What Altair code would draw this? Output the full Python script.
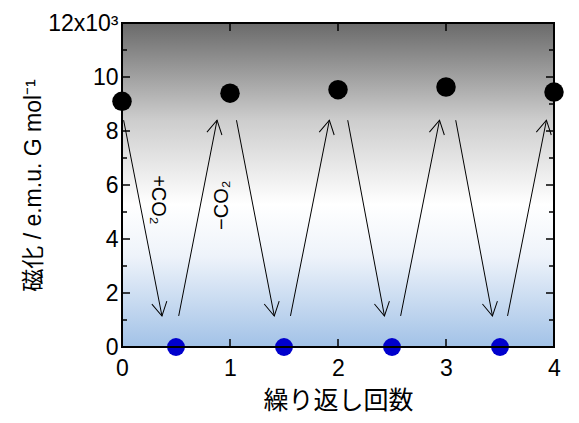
import altair as alt
import pandas as pd
import numpy as np

# ---- data ----
cycle_x = [0, 1, 2, 3, 4]
cycle_mag = [9100, 9400, 9530, 9630, 9440]          # black points (-CO2 state)
half_x = [0.5, 1.5, 2.5, 3.5]
half_mag = [0, 0, 0, 0]                               # blue points (+CO2 state)

# arrows: start x, start y, end x, end y
arr_x1 = [0.015, 0.525, 1.06, 1.56, 2.09, 2.58, 3.09, 3.57]
arr_y1 = [8400, 1150, 8400, 1150, 8400, 1150, 8400, 1150]
arr_x2 = [0.37, 0.88, 1.41, 1.92, 2.43, 2.94, 3.43, 3.93]
arr_y2 = [1150, 8400, 1150, 8400, 1150, 8400, 1150, 8400]

label_text = ["+CO\u2082", "\u2212CO\u2082"]
label_x = [0.33, 0.93]
label_y = [5450, 5250]
label_angle = [90, 270]

y_major = [0, 2000, 4000, 6000, 8000, 10000, 12000]
y_minor = [1000, 3000, 5000, 7000, 9000, 11000]
x_major = [1, 2, 3]

W, H = 432, 324
FONT = "Liberation Sans, Arial, Noto Sans CJK JP, sans-serif"

xs = alt.Scale(domain=[0, 4], nice=False, zero=False)
ys = alt.Scale(domain=[0, 12000], nice=False)

black = pd.DataFrame({"x": cycle_x, "y": cycle_mag})
blue = pd.DataFrame({"x": half_x, "y": half_mag})
arr = pd.DataFrame({"x1": arr_x1, "y1": arr_y1, "x2": arr_x2, "y2": arr_y2})
# arrowhead angle (clockwise from up) computed in pixel space
px = (arr["x2"] - arr["x1"]) * W / 4
py = -(arr["y2"] - arr["y1"]) * H / 12000
arr["ang"] = (np.degrees(np.arctan2(px, -py)) + 360) % 360
labels = pd.DataFrame({"t": label_text, "x": label_x, "y": label_y, "a": label_angle})
one = pd.DataFrame({"a": [0]})

xaxis = alt.Axis(values=[0, 1, 2, 3, 4], title="繰り返し回数", ticks=False, domain=False,
                 grid=False, labelFontSize=23, titleFontSize=25, labelPadding=10,
                 labelFlush=False, titlePadding=8, labelFont=FONT, titleFont=FONT,
                 titleFontWeight="normal", labelColor="black", titleColor="black", format="d")
yaxis = alt.Axis(values=y_major, title="磁化 / e.m.u. G mol\u207b\u00b9", ticks=False,
                 domain=False, grid=False, labelFontSize=23, titleFontSize=23,
                 labelPadding=4, titlePadding=2, labelFont=FONT, titleFont=FONT,
                 labelFlush=False,
                 titleFontWeight="normal", labelColor="black", titleColor="black",
                 labelExpr="datum.value == 12000 ? '12x10\u00b3' : format(datum.value/1000, 'd')")

grad = alt.LinearGradient(
    gradient="linear", x1=0, x2=0, y1=0, y2=1,
    stops=[alt.GradientStop(offset=0, color="#6a6a6a"),
           alt.GradientStop(offset=0.3, color="#cdcdcd"),
           alt.GradientStop(offset=0.56, color="#ffffff"),
           alt.GradientStop(offset=0.72, color="#eef3fa"),
           alt.GradientStop(offset=1, color="#a2c2e7")])

bg = alt.Chart(one).mark_rect(fill=grad).encode(
    x=alt.value(0), x2=alt.value(W), y=alt.value(0), y2=alt.value(H))

shafts = alt.Chart(arr).mark_rule(color="black", strokeWidth=1).encode(
    x=alt.X("x1:Q", scale=xs, axis=xaxis), y=alt.Y("y1:Q", scale=ys, axis=yaxis),
    x2="x2:Q", y2="y2:Q")

heads = alt.Chart(arr).mark_point(
    shape="M -0.56 1 L 0 0 L 0.56 1", filled=False, stroke="black", strokeWidth=1,
    size=740, opacity=1).encode(
    x=alt.X("x2:Q", scale=xs), y=alt.Y("y2:Q", scale=ys), angle=alt.Angle("ang:Q", scale=None))

texts = alt.Chart(labels).mark_text(fontSize=20, font=FONT, color="black",
                                    align="center", baseline="middle").encode(
    x=alt.X("x:Q", scale=xs), y=alt.Y("y:Q", scale=ys), text="t:N",
    angle=alt.Angle("a:Q", scale=None))

pts_black = alt.Chart(black).mark_circle(color="black", size=380, opacity=1).encode(
    x=alt.X("x:Q", scale=xs), y=alt.Y("y:Q", scale=ys))
pts_blue = alt.Chart(blue).mark_circle(color="#0000cd", size=320, opacity=1).encode(
    x=alt.X("x:Q", scale=xs), y=alt.Y("y:Q", scale=ys))

ymaj = pd.DataFrame({"v": y_major})
ymin = pd.DataFrame({"v": y_minor})
xmaj = pd.DataFrame({"v": x_major})

def yt(df, x0, x1):
    return alt.Chart(df).mark_rule(color="black", strokeWidth=1.5).encode(
        y=alt.Y("v:Q", scale=ys), x=alt.value(x0), x2=alt.value(x1))

def xt(df, y0, y1):
    return alt.Chart(df).mark_rule(color="black", strokeWidth=1.5).encode(
        x=alt.X("v:Q", scale=xs), y=alt.value(y0), y2=alt.value(y1))

ticks = [yt(ymaj, 0, 8), yt(ymin, 0, 5), yt(ymaj, W - 8, W), yt(ymin, W - 5, W),
         xt(xmaj, H - 8, H), xt(xmaj, 0, 8)]

frame = alt.Chart(one).mark_rect(fill=None, stroke="black", strokeWidth=2).encode(
    x=alt.value(0), x2=alt.value(W), y=alt.value(0), y2=alt.value(H))

chart = alt.layer(bg, shafts, heads, texts, pts_black, pts_blue, *ticks, frame).properties(
    width=W, height=H,
    autosize=alt.AutoSizeParams(type="none"),
    padding={"left": 114, "top": 15, "right": 12, "bottom": 70},
).configure_view(stroke=None).configure(font=FONT)

chart.save("out.html", embed_options={"renderer": "svg", "actions": False})
